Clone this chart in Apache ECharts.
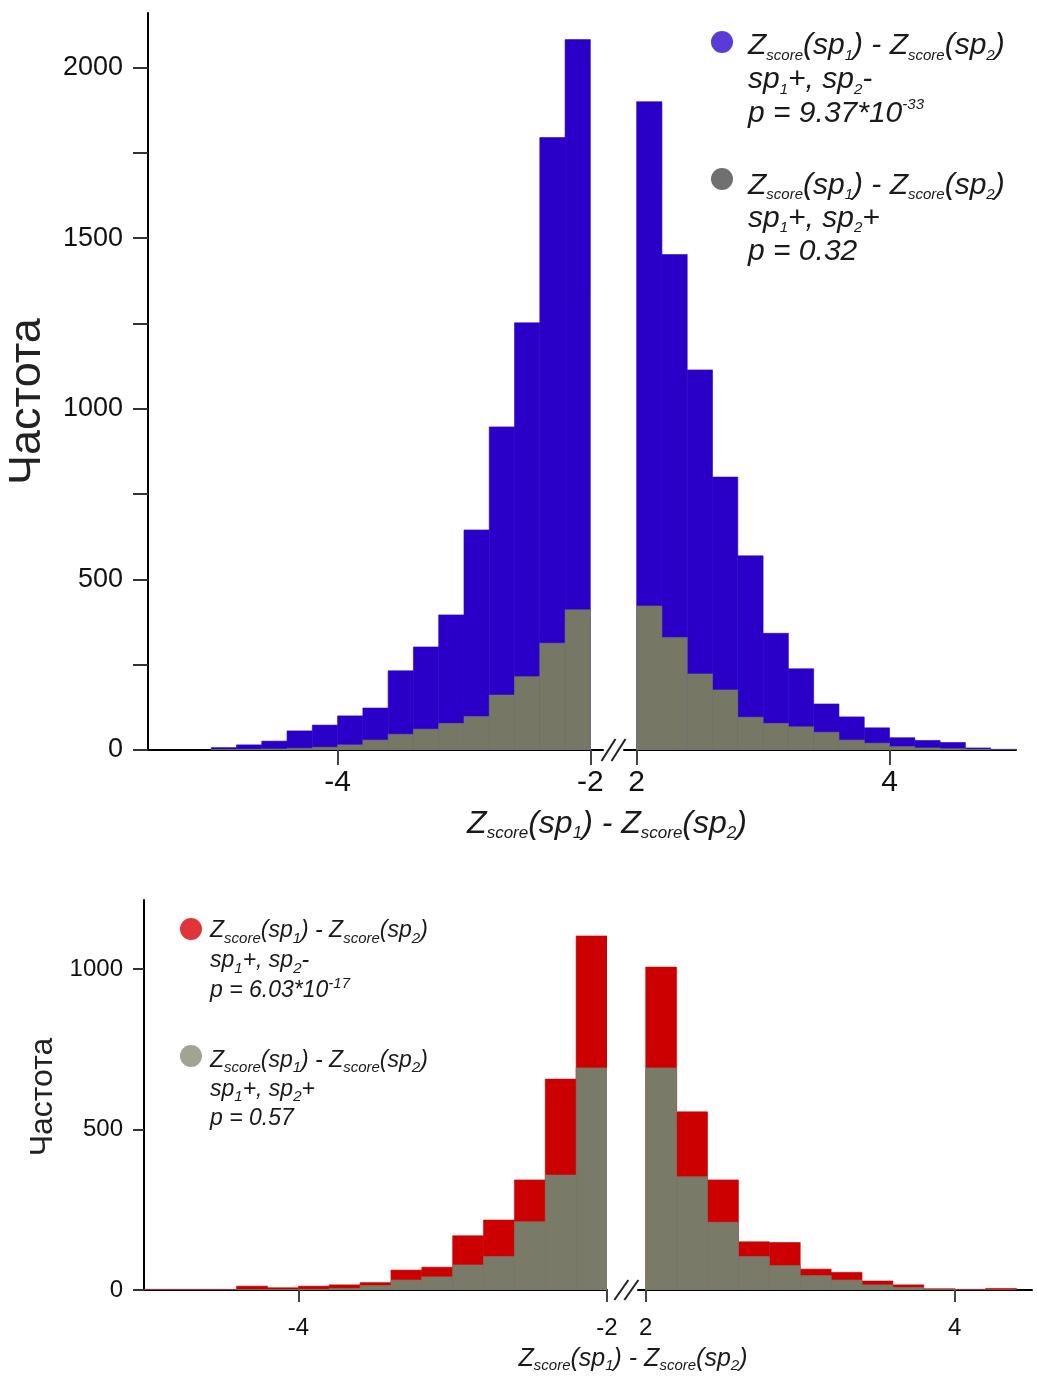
<!DOCTYPE html>
<html lang="ru">
<head>
<meta charset="UTF-8">
<title>Частота Zscore(sp1) - Zscore(sp2)</title>
<script src="https://cdn.jsdelivr.net/npm/echarts@6/dist/echarts.min.js"></script>
<style>
  * { margin: 0; padding: 0; box-sizing: border-box; }
  body { background: #fff; }
  #chart { width: 1037px; height: 1378px; }
</style>
</head>
<body>
<div id="chart"></div>
<script>
// histogram bins, width 0.2
const binWidth = 0.2;
const leftBinStarts = [-5.0, -4.8, -4.6, -4.4, -4.2, -4.0, -3.8, -3.6, -3.4, -3.2, -3.0, -2.8, -2.6, -2.4, -2.2];
const rightBinStarts = [2.0, 2.2, 2.4, 2.6, 2.8, 3.0, 3.2, 3.4, 3.6, 3.8, 4.0, 4.2, 4.4, 4.6, 4.8];
const rightBinStartsBottom = [2.0, 2.2, 2.4, 2.6, 2.8, 3.0, 3.2, 3.4, 3.6, 3.8, 4.0, 4.2];

// top chart: sp1+, sp2- (blue) and sp1+, sp2+ (gray)
const topLeftBlue  = [7, 15, 26, 56, 73, 100, 123, 232, 302, 396, 645, 947, 1252, 1795, 2082];
const topLeftGray  = [1, 2, 3, 5, 8, 15, 29, 46, 61, 78, 98, 161, 215, 313, 411];
const topRightBlue = [1900, 1452, 1114, 800, 569, 342, 238, 135, 97, 65, 36, 28, 22, 6, 2];
const topRightGray = [422, 330, 223, 176, 96, 78, 68, 52, 29, 20, 10, 6, 4, 2, 0];

// bottom chart: sp1+, sp2- (red) and sp1+, sp2+ (gray)
const botLeftRed   = [2, 2, 2, 12, 7, 12, 16, 23, 62, 71, 169, 218, 343, 657, 1103];
const botLeftGray  = [0, 0, 0, 1, 1, 2, 5, 14, 31, 41, 78, 104, 213, 358, 692];
const botRightRed  = [1006, 555, 343, 150, 148, 65, 55, 28, 16, 4, 2, 5];
const botRightGray = [692, 353, 211, 104, 76, 45, 31, 16, 8, 1, 0, 0];

// axis ticks
const topYTicks = [0, 250, 500, 750, 1000, 1250, 1500, 1750, 2000];
const topYLabels = [0, 500, 1000, 1500, 2000];
const botYTicks = [0, 500, 1000];
const leftXTicks = [-4, -2];
const rightXTicks = [2, 4];

const FONT = '"Liberation Sans", Arial, sans-serif';

const chart = echarts.init(document.getElementById('chart'));

function toBins(starts, counts) {
  return starts.map((s, i) => [s, +(s + binWidth).toFixed(2), counts[i]]);
}

function renderBin(params, api) {
  const top = api.coord([api.value(0), api.value(2)]);
  const base = api.coord([api.value(1), 0]);
  const color = api.visual('color');
  return {
    type: 'rect',
    shape: { x: top[0], y: top[1], width: base[0] - top[0], height: base[1] - top[1] },
    style: { fill: color, stroke: color, lineWidth: 0.6 }
  };
}

function binSeries(name, idx, starts, counts, color) {
  return {
    name: name,
    type: 'custom',
    xAxisIndex: idx,
    yAxisIndex: idx,
    renderItem: renderBin,
    encode: { x: [0, 1], y: 2 },
    itemStyle: { color: color },
    clip: true,
    silent: true,
    data: toBins(starts, counts)
  };
}

function xAxis(idx, min, max, ticks, fontSize, margin) {
  return {
    type: 'value', gridIndex: idx, min: min, max: max,
    axisLine: { onZero: false, lineStyle: { color: '#000', width: 2 } },
    axisTick: { customValues: ticks, length: fontSize > 26 ? 15 : 12, lineStyle: { color: '#444', width: 2 } },
    axisLabel: { customValues: ticks, fontSize: fontSize, margin: margin, color: '#111', fontFamily: FONT },
    splitLine: { show: false }
  };
}

function yAxisLeft(idx, max, ticks, labels, fontSize, margin, nameSize, nameGap, namePad) {
  return {
    type: 'value', gridIndex: idx, min: 0, max: max,
    axisLine: { show: true, onZero: false, lineStyle: { color: '#000', width: 2 } },
    axisTick: { show: true, customValues: ticks, length: fontSize > 25 ? 15 : 11, lineStyle: { color: '#333', width: 2 } },
    axisLabel: {
      customValues: labels, fontSize: fontSize, margin: margin, color: '#111', fontFamily: FONT,
      formatter: v => String(v)
    },
    splitLine: { show: false },
    name: 'Частота', nameLocation: 'middle', nameRotate: 90, nameGap: nameGap,
    nameTextStyle: { fontSize: nameSize, color: '#222', fontFamily: FONT, padding: namePad }
  };
}

function yAxisHidden(idx, max) {
  return { type: 'value', gridIndex: idx, min: 0, max: max, show: false, splitLine: { show: false } };
}

// rich text for "Zscore(sp1) - Zscore(sp2)" etc.
function richStyles(main, sub, lh) {
  const base = { fontFamily: FONT, fontStyle: 'italic', fill: '#1a1a1a' };
  return {
    m: Object.assign({ fontSize: main, lineHeight: lh, verticalAlign: 'middle' }, base),
    s: Object.assign({ fontSize: sub, lineHeight: sub, verticalAlign: 'bottom' }, base),
    u: Object.assign({ fontSize: sub, lineHeight: sub, verticalAlign: 'top' }, base)
  };
}
const zDiff = '{m|Z}{s|score}{m|(sp}{s|1}{m|) - Z}{s|score}{m|(sp}{s|2}{m|)}';
const negLine = '{m|sp}{s|1}{m|+, sp}{s|2}{m|-}';
const posLine = '{m|sp}{s|1}{m|+, sp}{s|2}{m|+}';

chart.setOption({
  animation: false,
  backgroundColor: '#fff',
  grid: [
    { left: 148, top: 13, width: 455, height: 737 },
    { left: 624, top: 13, width: 392, height: 737 },
    { left: 144, top: 900, width: 463, height: 390 },
    { left: 638, top: 900, width: 394, height: 390 }
  ],
  xAxis: [
    xAxis(0, -5.5, -1.9, leftXTicks, 30, 18),
    xAxis(1, 1.9, 5.0, rightXTicks, 30, 18),
    xAxis(2, -5, -2, leftXTicks, 24, 26),
    xAxis(3, 1.95, 4.5, rightXTicks, 24, 26)
  ],
  yAxis: [
    yAxisLeft(0, 2160, topYTicks, topYLabels, 27, 25, 45, 98, [0, 40, 0, 0]),
    yAxisHidden(1, 2160),
    yAxisLeft(2, 1215, botYTicks, botYTicks, 24, 21, 32, 85, [0, 4, 0, 0]),
    yAxisHidden(3, 1215)
  ],
  series: [
    binSeries('top-neg', 0, leftBinStarts, topLeftBlue, '#2a00c9'),
    binSeries('top-pos', 0, leftBinStarts, topLeftGray, '#777766'),
    binSeries('top-neg', 1, rightBinStarts, topRightBlue, '#2a00c9'),
    binSeries('top-pos', 1, rightBinStarts, topRightGray, '#777766'),
    binSeries('bot-neg', 2, leftBinStarts, botLeftRed, '#cc0000'),
    binSeries('bot-pos', 2, leftBinStarts, botLeftGray, '#7a7a68'),
    binSeries('bot-neg', 3, rightBinStartsBottom, botRightRed, '#cc0000'),
    binSeries('bot-pos', 3, rightBinStartsBottom, botRightGray, '#7a7a68')
  ]
});

// axis break marks "//" between -2 and 2
function breakMarks(leftGrid, rightGrid, h) {
  const a = chart.convertToPixel({ gridIndex: leftGrid }, [-2, 0]);
  const b = chart.convertToPixel({ gridIndex: rightGrid }, [2, 0]);
  const mid = (a[0] + b[0]) / 2;
  const y = a[1];
  return [-5, 5].map(d => ({
    type: 'line',
    shape: { x1: mid + d - 7, y1: y + h, x2: mid + d + 7, y2: y - h },
    style: { stroke: '#222', lineWidth: 2 }
  }));
}

function legendItem(cx, cy, color, tx, ty, text, main, sub, lh) {
  return [
    { type: 'circle', shape: { cx: cx, cy: cy, r: 11 }, style: { fill: color } },
    { type: 'text', x: tx, y: ty, style: { text: text, rich: richStyles(main, sub, lh), verticalAlign: 'top', align: 'left' } }
  ];
}

const graphics = [].concat(
  breakMarks(0, 1, 11),
  breakMarks(2, 3, 10),
  legendItem(722, 42, '#5a3ad8', 748, 29, zDiff + '\n' + negLine + '\n{m|p = 9.37*10}{u|-33}', 30, 15, 34),
  legendItem(722, 179, '#707070', 748, 169, zDiff + '\n' + posLine + '\n{m|p = 0.32}', 30, 15, 33),
  legendItem(191, 929, '#e0343a', 210, 916, zDiff + '\n' + negLine + '\n{m|p = 6.03*10}{u|-17}', 23, 15, 30),
  legendItem(191, 1056, '#a3a395', 210, 1046, zDiff + '\n' + posLine + '\n{m|p = 0.57}', 23, 15, 29),
  [
    { type: 'text', x: 607, y: 824, style: { text: zDiff, rich: richStyles(32, 17, 36), align: 'center', verticalAlign: 'middle' } },
    { type: 'text', x: 633, y: 1359, style: { text: zDiff, rich: richStyles(25, 15, 28), align: 'center', verticalAlign: 'middle' } }
  ]
);

chart.setOption({ graphic: graphics });
</script>
</body>
</html>
